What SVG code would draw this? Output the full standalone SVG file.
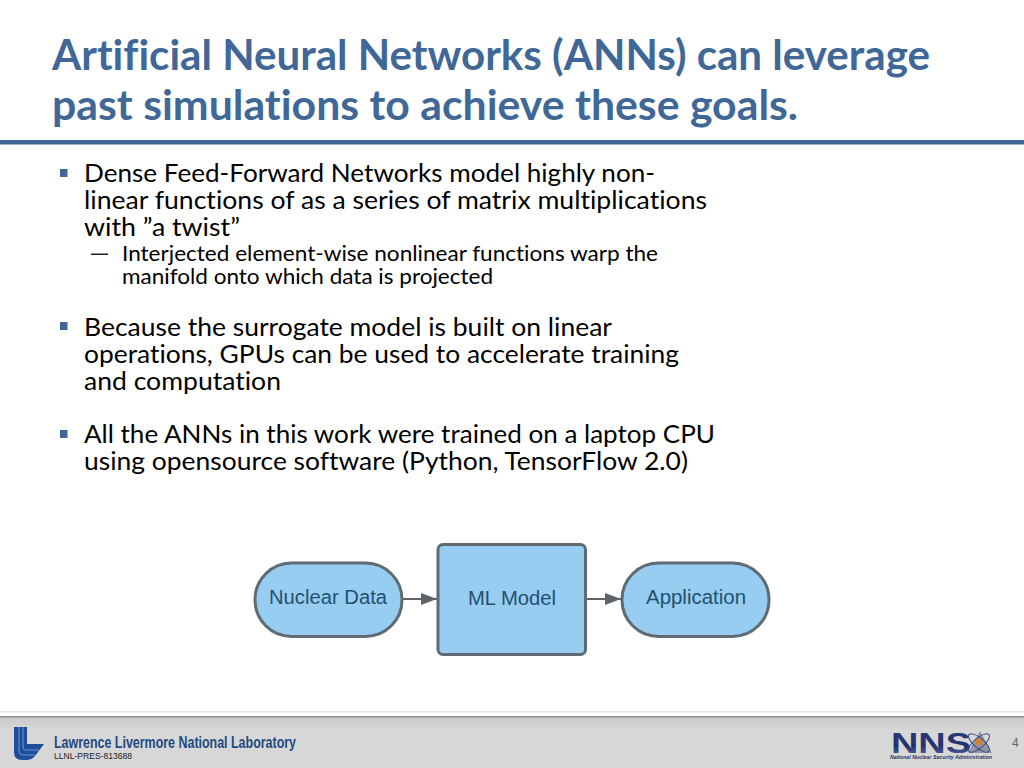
<svg xmlns="http://www.w3.org/2000/svg" width="1024" height="768" viewBox="0 0 1024 768">
<defs>
<style>
text{font-family:Lato,"Open Sans","Noto Sans",sans-serif;font-variant-ligatures:none}
.t{font-size:42px;font-weight:700;fill:#3f6797}
.b{font-size:25px;fill:#000}
.s{font-size:21px;fill:#000}
.n{font-family:"Liberation Sans",Arial,sans-serif;font-size:20px;fill:#24506f}
.f{font-family:"Liberation Sans",Arial,sans-serif}
.box{fill:#96cdf0;stroke:#5f6a72;stroke-width:3}
.c{stroke:#5f6468;stroke-width:2;fill:none;marker-end:url(#a)}
.bul{fill:#3f6797}
</style>
<marker id="a" markerUnits="userSpaceOnUse" markerWidth="16" markerHeight="12" refX="16" refY="6" orient="auto"><path d="M0 0L16 6L0 12Z" fill="#5f6468"/></marker>
<linearGradient id="f" x1="0" y1="0" x2="0" y2="1"><stop offset="0" stop-color="#c9c9c9"/><stop offset=".3" stop-color="#d8d8d8"/><stop offset="1" stop-color="#d6d6d6"/></linearGradient>
<linearGradient id="ng" x1="0" y1="0" x2="0" y2="1"><stop offset="0" stop-color="#2b3f7f"/><stop offset=".6" stop-color="#24306b"/><stop offset="1" stop-color="#5d6fa3"/></linearGradient>
</defs>
<rect width="1024" height="768" fill="#fff"/>
<g id="title">
<text class="t" x="52" y="70" textLength="878" lengthAdjust="spacingAndGlyphs">Artificial Neural Networks (ANNs) can leverage</text>
<text class="t" x="52" y="120" textLength="746" lengthAdjust="spacingAndGlyphs">past simulations to achieve these goals.</text>
<rect x="0" y="140" width="1024" height="4.500" fill="#3f6797"/>
</g>
<g id="body">
<rect class="bul" x="60" y="169" width="7.500" height="8"/>
<text class="b" x="84" y="182" textLength="571" lengthAdjust="spacingAndGlyphs">Dense Feed-Forward Networks model highly non-</text>
<text class="b" x="84" y="209" textLength="623" lengthAdjust="spacingAndGlyphs">linear functions of as a series of matrix multiplications</text>
<text class="b" x="84" y="236" textLength="156" lengthAdjust="spacingAndGlyphs">with ”a twist”</text>
<rect x="91" y="253.500" width="17" height="1.500" fill="#222"/>
<text class="s" x="122" y="261" textLength="536" lengthAdjust="spacingAndGlyphs">Interjected element-wise nonlinear functions warp the</text>
<text class="s" x="122" y="284" textLength="371" lengthAdjust="spacingAndGlyphs">manifold onto which data is projected</text>
<rect class="bul" x="60" y="322" width="7.500" height="8"/>
<text class="b" x="84" y="336" textLength="528" lengthAdjust="spacingAndGlyphs">Because the surrogate model is built on linear</text>
<text class="b" x="84" y="363" textLength="595" lengthAdjust="spacingAndGlyphs">operations, GPUs can be used to accelerate training</text>
<text class="b" x="84" y="390" textLength="197" lengthAdjust="spacingAndGlyphs">and computation</text>
<rect class="bul" x="60" y="430" width="7.500" height="8"/>
<text class="b" x="84" y="443" textLength="631" lengthAdjust="spacingAndGlyphs">All the ANNs in this work were trained on a laptop CPU</text>
<text class="b" x="84" y="470" textLength="604" lengthAdjust="spacingAndGlyphs">using opensource software (Python, TensorFlow 2.0)</text>
</g>
<g id="connectors">
<path class="c" d="M403 599H437"/>
<path class="c" d="M587 599H621"/>
</g>
<g id="nuclear-data">
<rect class="box" x="255" y="563" width="147" height="73.500" rx="36.500"/>
<text class="n" x="269" y="604" textLength="118" lengthAdjust="spacingAndGlyphs">Nuclear Data</text>
</g>
<g id="ml-model">
<rect class="box" x="438" y="544.500" width="147.500" height="110" rx="5"/>
<text class="n" x="468" y="605" textLength="88" lengthAdjust="spacingAndGlyphs">ML Model</text>
</g>
<g id="application">
<rect class="box" x="622" y="563" width="147" height="73.500" rx="36.500"/>
<text class="n" x="646" y="604" textLength="100" lengthAdjust="spacingAndGlyphs">Application</text>
</g>
<g id="footer">
<rect x="0" y="711" width="1024" height="1.500" fill="#e4e4e4"/>
<rect x="0" y="716" width="1024" height="52" fill="url(#f)"/>
<rect x="0" y="716" width="1024" height="1.500" fill="#8a8a8a"/>
<path d="M14 727H27V744H44L35 756Q32 760 26 760H22Q14 760 14 752Z" fill="#1f4f9c"/>
<path d="M19 727V751Q19 755 23 755H35" fill="none" stroke="#6f93c8" stroke-width="1"/>
<path d="M23 727V747Q23 750 26 750H39" fill="none" stroke="#6f93c8" stroke-width="1"/>
<text class="f" x="54" y="748" font-size="16" font-weight="700" fill="#1f4a80" textLength="242" lengthAdjust="spacingAndGlyphs">Lawrence Livermore National Laboratory</text>
<text class="f" x="54" y="759" font-size="8.500" fill="#222" textLength="78" lengthAdjust="spacingAndGlyphs">LLNL-PRES-813688</text>
<text class="f" x="891" y="752.500" font-size="29" font-weight="700" fill="url(#ng)" textLength="80" lengthAdjust="spacingAndGlyphs">NNS</text>
<path d="M968 753L980 731L992 753Z" fill="#8f96ad"/>
<g fill="none" stroke="#3d4a78" stroke-width="1">
<ellipse cx="979" cy="743" rx="13" ry="5" transform="rotate(40 979 743)"/>
<ellipse cx="979" cy="743" rx="13" ry="5" transform="rotate(-40 979 743)"/>
</g>
<circle cx="979" cy="742" r="3.500" fill="#d9802a"/>
<text class="f" x="890" y="759" font-size="5.500" font-weight="700" font-style="italic" fill="#2a3560" textLength="102" lengthAdjust="spacingAndGlyphs">National Nuclear Security Administration</text>
<text class="f" x="1012" y="747" font-size="12" fill="#666">4</text>
</g>
</svg>
